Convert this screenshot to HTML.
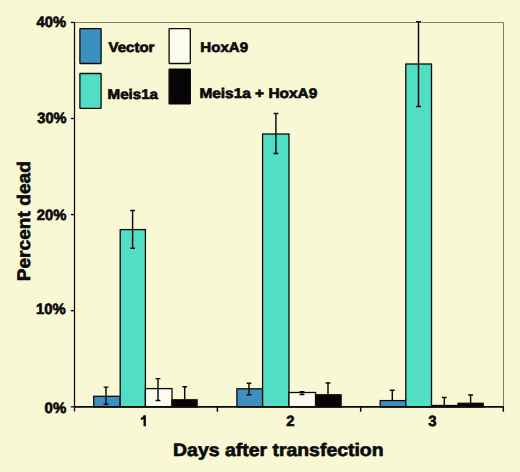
<!DOCTYPE html>
<html><head><meta charset="utf-8"><style>
html,body{margin:0;padding:0;background:#f8f8d4;}
svg{display:block;}
text{font-family:"Liberation Sans",sans-serif;font-weight:bold;text-rendering:geometricPrecision;fill:#0a0a0a;stroke:#0a0a0a;stroke-width:0.65px;}
</style></head><body>
<svg width="520" height="472" viewBox="0 0 520 472">
<rect x="0" y="0" width="520" height="472" fill="#f8f8d4"/>
<path d="M74.3 22.5 H503.5 V407" fill="none" stroke="#7e7e6a" stroke-width="1"/>
<rect x="93.75" y="396.30" width="26.45" height="10.65" fill="#3c90c0" stroke="#0a0a0a" stroke-width="1.3"/>
<rect x="120.20" y="229.60" width="25.20" height="177.35" fill="#50dec4" stroke="#0a0a0a" stroke-width="1.3"/>
<rect x="145.40" y="388.60" width="26.60" height="18.35" fill="#fcfcec" stroke="#0a0a0a" stroke-width="1.3"/>
<rect x="172.00" y="399.80" width="25.10" height="7.15" fill="#050505" stroke="#0a0a0a" stroke-width="1.3"/>
<rect x="236.90" y="388.80" width="25.70" height="18.15" fill="#3c90c0" stroke="#0a0a0a" stroke-width="1.3"/>
<rect x="262.60" y="134.00" width="26.40" height="272.95" fill="#50dec4" stroke="#0a0a0a" stroke-width="1.3"/>
<rect x="289.00" y="392.50" width="26.60" height="14.45" fill="#fcfcec" stroke="#0a0a0a" stroke-width="1.3"/>
<rect x="315.60" y="394.80" width="25.50" height="12.15" fill="#050505" stroke="#0a0a0a" stroke-width="1.3"/>
<rect x="380.20" y="400.60" width="25.60" height="6.35" fill="#3c90c0" stroke="#0a0a0a" stroke-width="1.3"/>
<rect x="405.80" y="64.00" width="25.70" height="342.95" fill="#50dec4" stroke="#0a0a0a" stroke-width="1.3"/>
<rect x="431.50" y="405.50" width="26.50" height="1.45" fill="#fcfcec" stroke="#0a0a0a" stroke-width="1.3"/>
<rect x="458.00" y="403.30" width="25.20" height="3.65" fill="#050505" stroke="#0a0a0a" stroke-width="1.3"/>
<path d="M106.0 387.1 V404.2 M103.6 387.1 H108.4 M103.6 404.2 H108.4" stroke="#0a0a0a" stroke-width="1.45" fill="none"/>
<path d="M132.6 210.5 V248.3 M130.2 210.5 H135.0 M130.2 248.3 H135.0" stroke="#0a0a0a" stroke-width="1.45" fill="none"/>
<path d="M158.0 378.6 V400.5 M155.6 378.6 H160.4 M155.6 400.5 H160.4" stroke="#0a0a0a" stroke-width="1.45" fill="none"/>
<path d="M184.7 386.7 V399.8 M182.3 386.7 H187.1" stroke="#0a0a0a" stroke-width="1.45" fill="none"/>
<path d="M249.0 383.3 V394.7 M246.6 383.3 H251.4 M246.6 394.7 H251.4" stroke="#0a0a0a" stroke-width="1.45" fill="none"/>
<path d="M275.9 113.4 V153.5 M273.5 113.4 H278.3 M273.5 153.5 H278.3" stroke="#0a0a0a" stroke-width="1.45" fill="none"/>
<path d="M302.0 391.6 V394.5 M299.6 391.6 H304.4 M299.6 394.5 H304.4" stroke="#0a0a0a" stroke-width="1.45" fill="none"/>
<path d="M328.0 383.0 V394.8 M325.6 383.0 H330.4" stroke="#0a0a0a" stroke-width="1.45" fill="none"/>
<path d="M392.3 390.3 V400.6 M389.9 390.3 H394.7" stroke="#0a0a0a" stroke-width="1.45" fill="none"/>
<path d="M418.5 21.6 V106.4 M416.1 21.6 H420.9 M416.1 106.4 H420.9" stroke="#0a0a0a" stroke-width="1.45" fill="none"/>
<path d="M444.3 397.4 V405.5 M441.9 397.4 H446.7" stroke="#0a0a0a" stroke-width="1.45" fill="none"/>
<path d="M470.6 395.0 V403.3 M468.2 395.0 H473.0" stroke="#0a0a0a" stroke-width="1.45" fill="none"/>
<path d="M74.5 22 V411.5" stroke="#0a0a0a" stroke-width="1.25"/>
<path d="M73.7 406.95 H503.9" stroke="#0a0a0a" stroke-width="1.8"/>
<path d="M70.8 22.4 H74.3" stroke="#0a0a0a" stroke-width="1.3"/>
<path d="M70.8 118.5 H74.3" stroke="#0a0a0a" stroke-width="1.3"/>
<path d="M70.8 214.6 H74.3" stroke="#0a0a0a" stroke-width="1.3"/>
<path d="M70.8 310.7 H74.3" stroke="#0a0a0a" stroke-width="1.3"/>
<path d="M70.8 406.8 H74.3" stroke="#0a0a0a" stroke-width="1.3"/>
<path d="M217.4 406.95 V411.7" stroke="#0a0a0a" stroke-width="1.5"/>
<path d="M360.7 406.95 V411.7" stroke="#0a0a0a" stroke-width="1.5"/>
<path d="M503.3 406.95 V411.7" stroke="#0a0a0a" stroke-width="1.5"/>
<rect x="79.9" y="28.7" width="21.2" height="34.8" rx="0.4" fill="#3c90c0" stroke="#0a0a0a" stroke-width="1.3"/>
<rect x="79.9" y="73.5" width="21.2" height="34.8" rx="0.4" fill="#50dec4" stroke="#0a0a0a" stroke-width="1.3"/>
<rect x="169.1" y="28.7" width="21.2" height="34.8" rx="0.4" fill="#fcfcec" stroke="#0a0a0a" stroke-width="1.3"/>
<rect x="169.1" y="69.1" width="21.2" height="34.8" rx="0.4" fill="#050505" stroke="#0a0a0a" stroke-width="1.3"/>
<text x="108.53" y="52.28" style="font-size:13.90px" textLength="45.93" lengthAdjust="spacingAndGlyphs">Vector</text>
<text x="107.53" y="99.03" style="font-size:13.90px" textLength="50.53" lengthAdjust="spacingAndGlyphs">Meis1a</text>
<text x="200.39" y="52.26" style="font-size:13.90px" textLength="47.63" lengthAdjust="spacingAndGlyphs">HoxA9</text>
<text x="199.40" y="98.31" style="font-size:13.90px" textLength="117.87" lengthAdjust="spacingAndGlyphs">Meis1a + HoxA9</text>
<text x="36.57" y="26.94" style="font-size:15.07px" textLength="29.44" lengthAdjust="spacingAndGlyphs">40%</text>
<text x="37.29" y="123.05" style="font-size:15.07px" textLength="29.15" lengthAdjust="spacingAndGlyphs">30%</text>
<text x="36.87" y="219.84" style="font-size:15.07px" textLength="29.63" lengthAdjust="spacingAndGlyphs">20%</text>
<text x="36.10" y="314.48" style="font-size:15.07px" textLength="29.66" lengthAdjust="spacingAndGlyphs">10%</text>
<text x="44.62" y="412.52" style="font-size:15.07px" textLength="21.63" lengthAdjust="spacingAndGlyphs">0%</text>
<path d="M145.9 415.2 V426.3 H143.5 V419.0 C142.6 419.6 141.7 419.9 140.8 420.0 V417.9 C142.2 417.6 143.1 416.6 143.5 415.2 Z" fill="#0a0a0a"/>
<text x="286.21" y="426.19" style="font-size:14.82px">2</text>
<text x="428.28" y="426.10" style="font-size:14.82px">3</text>
<text x="173.10" y="455.54" style="font-size:18.12px" textLength="210.48" lengthAdjust="spacingAndGlyphs">Days after transfection</text>
<text transform="translate(29.79 281.33) rotate(-90)" x="0" y="0" style="font-size:18.22px" textLength="120.19" lengthAdjust="spacingAndGlyphs">Percent dead</text>
</svg>
</body></html>
